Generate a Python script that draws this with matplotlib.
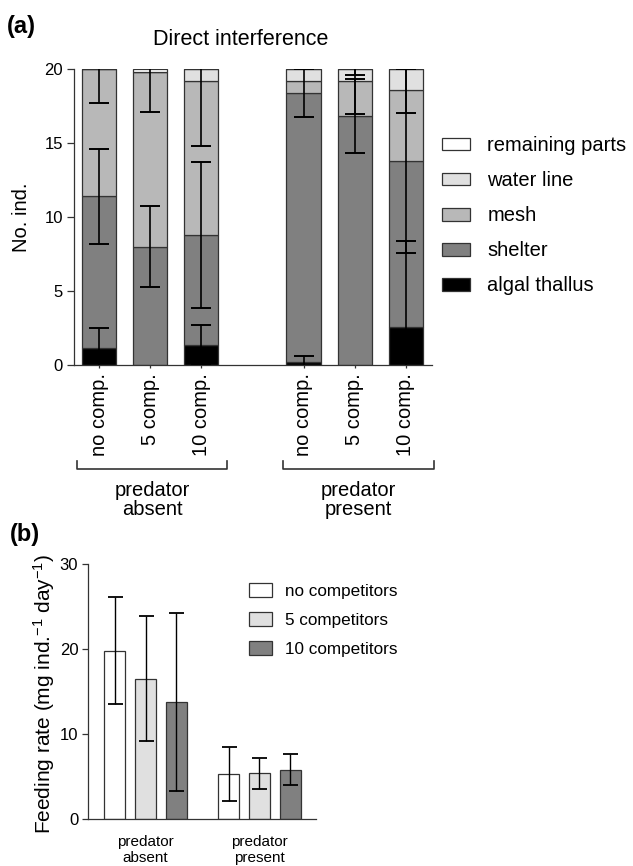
import numpy as np
import matplotlib
matplotlib.use("Agg")
import matplotlib.pyplot as plt
from matplotlib.patches import Patch

plt.rcParams['font.family'] = ['Liberation Sans', 'DejaVu Sans']
plt.rcParams['mathtext.default'] = 'regular'

# ---- panel (a): direct interference, stacked counts per location ----
groups_a = ['predator\nabsent', 'predator\npresent']
comp_labels = ['no comp.', '5 comp.', '10 comp.']
seg_names = ['algal thallus', 'shelter', 'mesh', 'water line', 'remaining parts']
seg_colors = ['#000000', '#808080', '#b8b8b8', '#e0e0e0', '#ffffff']

algal     = [1.15, 0.00, 1.38, 0.18, 0.00, 2.55]
shelter   = [10.24, 7.98, 7.41, 18.20, 16.84, 11.24]
mesh      = [8.61, 11.79, 10.42, 0.81, 2.37, 4.81]
waterline = [0.00, 0.00, 0.79, 0.81, 0.79, 1.40]
remaining = [0.00, 0.23, 0.00, 0.00, 0.00, 0.00]

err_algal   = [1.34, 0.00, 1.29, 0.41, 0.00, 5.83]
err_shelter = [3.21, 2.74, 4.95, 1.61, 2.51, 6.19]
err_mesh    = [2.30, 2.70, 4.41, 0.00, 2.26, 1.60]
err_water   = [0.00, 0.00, 0.00, 0.00, 0.40, 0.00]

# ---- panel (b): feeding rate ----
groups_b = ['predator\nabsent', 'predator\npresent']
comp_names = ['no competitors', '5 competitors', '10 competitors']
comp_colors = ['#ffffff', '#e0e0e0', '#808080']
feed_absent = [19.82, 16.49, 13.79]
feed_absent_err = [6.27, 7.34, 10.45]
feed_present = [5.25, 5.37, 5.80]
feed_present_err = [3.17, 1.83, 1.80]

W, H = 633, 866
fig = plt.figure(figsize=(W / 100, H / 100), dpi=100)
edge = '#333333'

def px_box(left, top, right, bottom):
    return [left / W, 1 - bottom / H, (right - left) / W, (bottom - top) / H]

# ================= panel (a) =================
ax = fig.add_axes(px_box(74, 69, 432, 365))
pos_a = np.array([0, 1, 2, 4, 5, 6])
stack = [algal, shelter, mesh, waterline, remaining]
errs = [err_algal, err_shelter, err_mesh, err_water, [0] * 6]
bottom = np.zeros(6)
for vals, col in zip(stack, seg_colors):
    vals = np.array(vals)
    ax.bar(pos_a, vals, bottom=bottom, width=0.67, color=col,
           edgecolor=edge, linewidth=0.9, zorder=2)
    bottom = bottom + vals
# error bars at the top of each segment
bottom = np.zeros(6)
for vals, e in zip(stack, errs):
    vals = np.array(vals)
    top = bottom + vals
    e = np.array(e)
    m = e > 0
    if m.any():
        ax.errorbar(pos_a[m], top[m], yerr=e[m], fmt='none', ecolor='black',
                    elinewidth=1.2, capsize=7, capthick=1.4, zorder=3)
    bottom = top

ax.set_xlim(-0.49, 6.51)
ax.set_ylim(0, 20)
ax.set_yticks([0, 5, 10, 15, 20])
ax.set_xticks(pos_a)
ax.set_xticklabels(comp_labels * 2, rotation=90, fontsize=14.5)
ax.tick_params(axis='y', length=5, width=0.9, labelsize=12, pad=3, color=edge)
ax.tick_params(axis='x', length=2, width=0.9, pad=4, color=edge)
for s in ['top', 'right']:
    ax.spines[s].set_visible(False)
for s in ['left', 'bottom']:
    ax.spines[s].set_linewidth(0.9)
    ax.spines[s].set_color(edge)
ax.set_ylabel('No. ind.', fontsize=14.5, va='center')
ax.yaxis.set_label_coords(-0.148, 0.5)

# group brackets under the category labels
trans = ax.get_xaxis_transform()
for (x0, x1), lab in zip([(-0.43, 2.51), (3.6, 6.55)], groups_a):
    ax.plot([x0, x0, x1, x1], [-0.324, -0.351, -0.351, -0.324], color=edge,
            lw=1.2, transform=trans, clip_on=False)
    ax.text((x0 + x1) / 2, -0.456, lab, transform=trans, ha='center',
            va='center', fontsize=14.5, linespacing=1.05)

handles = [Patch(facecolor=c, edgecolor=edge, linewidth=0.9) for c in seg_colors]
fig.legend(handles[::-1], seg_names[::-1], loc='upper left',
           bbox_to_anchor=(442 / W, 1 - 136 / H), frameon=False, fontsize=14.5,
           handlelength=1.4, handleheight=0.6, handletextpad=0.85,
           labelspacing=0.8, borderpad=0, borderaxespad=0)

fig.text(241 / W, 1 - 45 / H, 'Direct interference', ha='center',
         va='baseline', fontsize=15.5)
fig.text(7 / W, 1 - 27 / H, '(a)', ha='left', va='center', fontsize=17,
         fontweight='bold')

# ================= panel (b) =================
bx = fig.add_axes(px_box(88, 564, 316, 819))
pos_abs = np.array([0, 1, 2])
pos_pre = pos_abs + 3.7
bar_handles = []
for i in range(3):
    b = bx.bar([pos_abs[i], pos_pre[i]], [feed_absent[i], feed_present[i]],
               width=0.665, color=comp_colors[i], edgecolor=edge,
               linewidth=0.9, zorder=2)
    bar_handles.append(b)
    bx.errorbar([pos_abs[i], pos_pre[i]], [feed_absent[i], feed_present[i]],
                yerr=[feed_absent_err[i], feed_present_err[i]], fmt='none',
                ecolor='black', elinewidth=1.0, capsize=5.4, capthick=1.3,
                zorder=3)
bx.set_xlim(-0.867, 6.535)
bx.set_ylim(0, 30)
bx.set_yticks([0, 10, 20, 30])
bx.set_xticks([])
bx.tick_params(axis='y', length=4, width=0.9, labelsize=12, pad=3, color=edge)
for s in ['top', 'right']:
    bx.spines[s].set_visible(False)
for s in ['left', 'bottom']:
    bx.spines[s].set_linewidth(0.9)
    bx.spines[s].set_color(edge)
bx.set_ylabel('Feeding rate (mg ind.$^{-1}$ day$^{-1}$)', fontsize=15,
              va='center')
bx.yaxis.set_label_coords(-0.193, 0.49)
tb = bx.get_xaxis_transform()
for x, lab in zip([1, 4.7], groups_b):
    bx.text(x, -0.1216, lab, transform=tb, ha='center', va='center',
            fontsize=11)

fig.legend(bar_handles, comp_names, loc='upper left',
           bbox_to_anchor=(249 / W, 1 - 583 / H),
           frameon=False, fontsize=12.3, handlelength=1.35, handleheight=0.88,
           handletextpad=0.76, labelspacing=0.78, borderpad=0, borderaxespad=0)
fig.text(10 / W, 1 - 534 / H, '(b)', ha='left', va='center', fontsize=17,
         fontweight='bold')

fig.savefig('out.png', dpi=100)
